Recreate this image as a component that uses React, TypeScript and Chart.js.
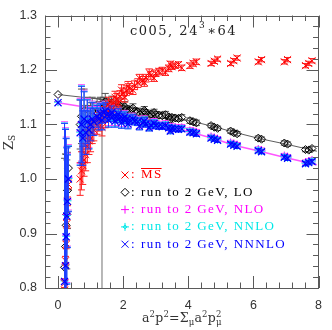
import React, { useEffect, useRef } from "react";
import { Chart, registerables } from "chart.js";

Chart.register(...registerables);

// ---- data ----
const momenta = [0.20, 0.23, 0.25, 0.27, 0.29, 0.32, 0.68, 0.72, 0.76, 0.80, 0.85, 0.90, 0.95, 1.00, 1.05, 1.10, 1.20, 1.25, 1.30, 1.40, 1.50, 1.60, 1.70, 1.80, 1.90, 2.00, 2.10, 2.20, 2.35, 2.45, 2.60, 2.70, 2.85, 3.00, 3.10, 3.20, 3.40, 3.50, 3.60, 3.70, 4.05, 4.15, 4.25, 4.70, 4.80, 4.90, 5.30, 5.40, 5.50, 6.15, 6.25, 6.95, 7.05, 7.60, 7.70, 7.80,
  1.35, 1.45, 1.55, 1.65, 1.75, 1.85, 1.95, 2.05, 2.15, 2.30, 2.50, 2.65, 2.80, 2.95, 3.30, 3.45, 3.80];
const msbar = [0.809, 0.850, 0.880, 0.918, 0.959, 0.990, 1.000, 1.015, 1.025, 1.035, 1.045, 1.060, 1.070, 1.075, 1.085, 1.090, 1.100, 1.105, 1.110, 1.120, 1.127, 1.133, 1.140, 1.146, 1.152, 1.157, 1.162, 1.166, 1.172, 1.176, 1.181, 1.185, 1.190, 1.194, 1.197, 1.199, 1.203, 1.206, 1.208, 1.210, 1.208, 1.212, 1.215, 1.212, 1.216, 1.220, 1.212, 1.217, 1.222, 1.215, 1.219, 1.215, 1.219, 1.208, 1.212, 1.217,
  1.095, 1.108, 1.137, 1.128, 1.150, 1.140, 1.163, 1.150, 1.170, 1.163, 1.185, 1.177, 1.195, 1.185, 1.196, 1.211, 1.204];
const lo = [0.838, 0.876, 0.915, 0.935, 0.979, 1.020, 1.100, 1.115, 1.090, 1.125, 1.100, 1.120, 1.105, 1.115, 1.125, 1.120, 1.130, 1.125, 1.135, 1.138, 1.136, 1.135, 1.133, 1.132, 1.130, 1.129, 1.127, 1.126, 1.124, 1.123, 1.122, 1.121, 1.119, 1.118, 1.117, 1.116, 1.114, 1.113, 1.112, 1.111, 1.107, 1.105, 1.103, 1.098, 1.095, 1.093, 1.088, 1.085, 1.083, 1.075, 1.073, 1.066, 1.064, 1.054, 1.053, 1.056,
  1.128, 1.142, 1.128, 1.140, 1.126, 1.137, 1.124, 1.133, 1.121, 1.130, 1.118, 1.126, 1.115, 1.122, 1.118, 1.109, 1.113];
const nlo = [0.815, 0.844, 0.897, 0.935, 0.962, 1.003, 1.088, 1.103, 1.078, 1.113, 1.088, 1.108, 1.093, 1.103, 1.113, 1.108, 1.118, 1.113, 1.123, 1.125, 1.121, 1.120, 1.118, 1.117, 1.115, 1.114, 1.112, 1.111, 1.109, 1.108, 1.106, 1.104, 1.102, 1.101, 1.100, 1.099, 1.097, 1.096, 1.095, 1.094, 1.089, 1.088, 1.086, 1.078, 1.076, 1.074, 1.067, 1.065, 1.063, 1.055, 1.053, 1.043, 1.041, 1.031, 1.033, 1.035,
  1.111, 1.128, 1.111, 1.125, 1.109, 1.122, 1.106, 1.117, 1.104, 1.113, 1.100, 1.109, 1.097, 1.105, 1.101, 1.091, 1.095];
const nnlo = [0.813, 0.842, 0.895, 0.933, 0.960, 1.001, 1.086, 1.101, 1.076, 1.111, 1.086, 1.106, 1.091, 1.101, 1.111, 1.106, 1.116, 1.111, 1.121, 1.123, 1.119, 1.118, 1.116, 1.115, 1.113, 1.112, 1.110, 1.109, 1.107, 1.106, 1.104, 1.102, 1.100, 1.099, 1.098, 1.097, 1.095, 1.094, 1.093, 1.092, 1.087, 1.086, 1.084, 1.076, 1.074, 1.072, 1.065, 1.063, 1.061, 1.053, 1.051, 1.041, 1.039, 1.029, 1.031, 1.033,
  1.109, 1.126, 1.109, 1.123, 1.107, 1.120, 1.104, 1.115, 1.102, 1.111, 1.098, 1.107, 1.095, 1.103, 1.099, 1.089, 1.093];
const nnnlo = [0.812, 0.841, 0.894, 0.932, 0.959, 1.000, 1.085, 1.100, 1.075, 1.110, 1.085, 1.105, 1.090, 1.100, 1.110, 1.105, 1.115, 1.110, 1.120, 1.122, 1.118, 1.117, 1.115, 1.114, 1.112, 1.111, 1.109, 1.108, 1.106, 1.105, 1.103, 1.101, 1.099, 1.098, 1.097, 1.096, 1.094, 1.093, 1.092, 1.091, 1.086, 1.085, 1.083, 1.075, 1.073, 1.071, 1.064, 1.062, 1.060, 1.052, 1.050, 1.040, 1.038, 1.028, 1.030, 1.032,
  1.108, 1.125, 1.108, 1.122, 1.106, 1.119, 1.103, 1.114, 1.101, 1.110, 1.097, 1.106, 1.094, 1.102, 1.098, 1.088, 1.092];
const convErrs = [0.29, 0.25, 0.18, 0.125, 0.085, 0.06, 0.06, 0.07, 0.05, 0.05, 0.04, 0.04, 0.035, 0.03, 0.03, 0.025, 0.02, 0.02, 0.018, 0.015, 0.012, 0.011, 0.010, 0.010, 0.009, 0.009, 0.008, 0.008, 0.007, 0.007, 0.007, 0.006, 0.006, 0.006, 0.006, 0.005, 0.005, 0.005, 0.005, 0.005, 0.005, 0.005, 0.005, 0.004, 0.004, 0.004, 0.004, 0.004, 0.004, 0.004, 0.004, 0.004, 0.004, 0.004, 0.004, 0.004,
  0.018, 0.015, 0.013, 0.012, 0.011, 0.010, 0.010, 0.009, 0.009, 0.008, 0.007, 0.007, 0.006, 0.006, 0.006, 0.005, 0.005];
const loErrs = [0.20, 0.17, 0.13, 0.10, 0.07, 0.04, 0.045, 0.05, 0.04, 0.04, 0.035, 0.03, 0.03, 0.025, 0.025, 0.02, 0.018, 0.017, 0.015, 0.012, 0.012, 0.011, 0.010, 0.010, 0.009, 0.009, 0.008, 0.008, 0.007, 0.007, 0.007, 0.006, 0.006, 0.006, 0.006, 0.005, 0.005, 0.005, 0.005, 0.005, 0.005, 0.005, 0.005, 0.004, 0.004, 0.004, 0.004, 0.004, 0.004, 0.004, 0.004, 0.004, 0.004, 0.004, 0.004, 0.004,
  0.018, 0.015, 0.013, 0.012, 0.011, 0.010, 0.010, 0.009, 0.009, 0.008, 0.007, 0.007, 0.006, 0.006, 0.006, 0.005, 0.005];
const msErrs = [0.008, 0.008, 0.008, 0.008, 0.008, 0.008, 0.03, 0.035, 0.035, 0.03, 0.03, 0.03, 0.025, 0.025, 0.02, 0.02, 0.018, 0.017, 0.015, 0.013, 0.012, 0.012, 0.011, 0.011, 0.010, 0.010, 0.009, 0.009, 0.008, 0.008, 0.007, 0.007, 0.007, 0.006, 0.006, 0.006, 0.006, 0.005, 0.005, 0.005, 0.005, 0.005, 0.005, 0.004, 0.004, 0.004, 0.004, 0.004, 0.004, 0.004, 0.004, 0.004, 0.004, 0.004, 0.004, 0.004,
  0.016, 0.014, 0.013, 0.012, 0.011, 0.010, 0.010, 0.009, 0.009, 0.008, 0.007, 0.007, 0.007, 0.006, 0.006, 0.005, 0.005];

const zeroMomentum = 0;
const loAtZero = 1.155;
const nloAtZero = 1.142;
const nnloAtZero = 1.141;
const nnnloAtZero = 1.14;

const loLineX = [0, 1.35, 2.0, 2.7, 3.5, 4.25, 4.85, 5.4, 6.2, 7.0, 7.95];
const loLineY = [1.155, 1.146, 1.134, 1.124, 1.114, 1.104, 1.095, 1.086, 1.074, 1.064, 1.051];
const fitLineX = [0, 1.35, 2.0, 2.7, 3.5, 4.25, 4.85, 5.4, 6.2, 7.0, 7.95];
const fitLineY = [1.140, 1.127, 1.114, 1.104, 1.094, 1.083, 1.073, 1.062, 1.051, 1.039, 1.026];

const xTicks = [0, 2, 4, 6, 8];
const yTicks = [0.8, 0.9, 1.0, 1.1, 1.2, 1.3];
const cutValue = 1.35;

const titleMain = "c005, 24";
const titleSup = "3";
const titleTail = "\u221764";
const legendLabels = ["MS", "run to 2 GeV, LO", "run to 2 GeV, NLO", "run to 2 GeV, NNLO", "run to 2 GeV, NNNLO"];
const legendColors = ["#ff0000", "#000000", "#ff00ff", "#00e8e8", "#0000ff"];
const legendMarkers = ["x", "diamond", "plus", "star", "x"];

// ---- helpers ----
const pts = (ys: number[], extraX?: number, extraY?: number) => {
  const d = momenta.map((x, i) => ({ x, y: ys[i] }));
  if (extraX !== undefined && extraY !== undefined) d.unshift({ x: extraX, y: extraY });
  return d;
};
const withZeroErr = (e: number[]) => [0, ...e];

function drawMarker(ctx: CanvasRenderingContext2D, kind: string, cx: number, cy: number, color: string) {
  ctx.save();
  ctx.strokeStyle = color;
  ctx.lineWidth = 1;
  ctx.beginPath();
  const r = 3.5;
  if (kind === "x") {
    ctx.moveTo(cx - r, cy - r); ctx.lineTo(cx + r, cy + r);
    ctx.moveTo(cx - r, cy + r); ctx.lineTo(cx + r, cy - r);
  } else if (kind === "diamond") {
    ctx.moveTo(cx, cy - 4); ctx.lineTo(cx + 4, cy); ctx.lineTo(cx, cy + 4); ctx.lineTo(cx - 4, cy); ctx.closePath();
  } else if (kind === "plus") {
    ctx.moveTo(cx - 4, cy); ctx.lineTo(cx + 4, cy);
    ctx.moveTo(cx, cy - 4); ctx.lineTo(cx, cy + 4);
  } else {
    ctx.moveTo(cx - 4, cy); ctx.lineTo(cx + 4, cy);
    ctx.moveTo(cx, cy - 4); ctx.lineTo(cx, cy + 4);
    ctx.moveTo(cx, cy - 2); ctx.lineTo(cx + 2, cy); ctx.lineTo(cx, cy + 2); ctx.lineTo(cx - 2, cy); ctx.closePath();
  }
  ctx.stroke();
  ctx.restore();
}

const decorPlugin = {
  id: "decor",
  beforeDatasetsDraw(chart: any) {
    const { ctx, chartArea: a, scales } = chart;
    const px = scales.x.getPixelForValue(cutValue);
    ctx.save();
    ctx.strokeStyle = "#b0b0b0";
    ctx.lineWidth = 1.8;
    ctx.beginPath();
    ctx.moveTo(px, a.top);
    ctx.lineTo(px, a.bottom);
    ctx.stroke();
    ctx.restore();
  },
  beforeDatasetDraw(chart: any, args: any) {
    const ds = chart.data.datasets[args.index];
    if (!ds.errorBars) return;
    const { ctx, chartArea: a, scales } = chart;
    ctx.save();
    ctx.beginPath();
    ctx.rect(a.left, a.top, a.right - a.left, a.bottom - a.top);
    ctx.clip();
    ctx.strokeStyle = ds.errorColor;
    ctx.lineWidth = 1;
    const cap = 3.5;
    ds.data.forEach((p: any, i: number) => {
      const e = ds.errorBars[i];
      if (!e) return;
      const px = scales.x.getPixelForValue(p.x);
      const t = scales.y.getPixelForValue(p.y + e);
      const b = scales.y.getPixelForValue(p.y - e);
      ctx.beginPath();
      ctx.moveTo(px, t); ctx.lineTo(px, b);
      ctx.moveTo(px - cap, t); ctx.lineTo(px + cap, t);
      ctx.moveTo(px - cap, b); ctx.lineTo(px + cap, b);
      ctx.stroke();
    });
    ctx.restore();
  },
  afterDraw(chart: any) {
    const { ctx, chartArea: a, scales } = chart;
    const x = scales.x, y = scales.y;
    ctx.save();
    // frame
    ctx.strokeStyle = "#5a5a5a";
    ctx.lineWidth = 1;
    ctx.strokeRect(Math.round(a.left) + 0.5, Math.round(a.top) + 0.5, Math.round(a.right - a.left) - 1, Math.round(a.bottom - a.top) - 1);
    const major = 12, minor = 5.5;
    const xMinor = 0.4, yMinor = 0.02;
    ctx.beginPath();
    for (let k = Math.ceil(x.min / xMinor - 1e-6); k * xMinor <= x.max + 1e-6; k++) {
      const v = k * xMinor;
      const isMajor = xTicks.some((t) => Math.abs(t - v) < 1e-6);
      const len = isMajor ? major : minor;
      const px = Math.round(x.getPixelForValue(v)) + 0.5;
      ctx.moveTo(px, a.bottom); ctx.lineTo(px, a.bottom - len);
      ctx.moveTo(px, a.top); ctx.lineTo(px, a.top + len);
    }
    for (let k = Math.ceil(y.min / yMinor - 1e-6); k * yMinor <= y.max + 1e-6; k++) {
      const v = k * yMinor;
      const isMajor = yTicks.some((t) => Math.abs(t - v) < 1e-6);
      const len = isMajor ? major : minor;
      const py = Math.round(y.getPixelForValue(v)) + 0.5;
      ctx.moveTo(a.left, py); ctx.lineTo(a.left + len, py);
      ctx.moveTo(a.right, py); ctx.lineTo(a.right - len, py);
    }
    ctx.stroke();

    // title
    ctx.fillStyle = "#222";
    (ctx as any).letterSpacing = "1.5px";
    ctx.font = "13px 'DejaVu Serif'";
    ctx.textBaseline = "alphabetic";
    ctx.textAlign = "left";
    let tx = 130;
    ctx.fillText(titleMain, tx, 35);
    tx += ctx.measureText(titleMain).width;
    ctx.font = "9px 'DejaVu Serif'";
    ctx.fillText(titleSup, tx, 28);
    tx += ctx.measureText(titleSup).width + 1;
    ctx.font = "13px 'DejaVu Serif'";
    ctx.fillText(titleTail, tx, 35);

    // legend
    (ctx as any).letterSpacing = "1.4px";
    ctx.font = "13px 'Liberation Serif'";
    const rows = [175, 192.3, 209.6, 226.9, 244.2];
    legendLabels.forEach((lab, i) => {
      const cy = rows[i];
      drawMarker(ctx, legendMarkers[i], 125, cy, legendColors[i]);
      ctx.fillStyle = legendColors[i];
      ctx.textBaseline = "middle";
      ctx.fillText(":", 131, cy);
      ctx.fillText(lab, 141, cy);
      if (i === 0) {
        const w = ctx.measureText(lab).width;
        ctx.strokeStyle = legendColors[i];
        ctx.lineWidth = 1;
        ctx.beginPath();
        ctx.moveTo(141, cy - 6.5);
        ctx.lineTo(141 + w - 1, cy - 6.5);
        ctx.stroke();
      }
    });

    // x axis title: a^2p^2 = Σ_μ a^2 p^2_μ
    (ctx as any).letterSpacing = "0.2px";
    ctx.fillStyle = "#333";
    ctx.textBaseline = "alphabetic";
    const big = "12.5px 'DejaVu Serif'", small = "8.5px 'DejaVu Serif'";
    const parts: [string, string, number][] = [
      ["a", big, 0], ["2", small, -5], ["p", big, 0], ["2", small, -5], ["=", big, 0], ["\u03a3", big, 0], ["\u03bc", small, 3], ["a", big, 0], ["2", small, -5], ["p", big, 0],
    ];
    let totalW = 0;
    parts.forEach(([s, f]) => { ctx.font = f; totalW += ctx.measureText(s).width; });
    ctx.font = small;
    totalW += ctx.measureText("\u03bc").width;
    let ax = (a.left + a.right) / 2 - totalW / 2;
    const ab = 322;
    parts.forEach(([s, f, dy]) => {
      ctx.font = f;
      ctx.fillText(s, ax, ab + dy);
      ax += ctx.measureText(s).width;
    });
    ctx.font = small;
    ctx.fillText("2", ax, ab - 5);
    ctx.fillText("\u03bc", ax, ab + 3);

    // y axis title Z_S
    ctx.save();
    ctx.translate(13, 150);
    ctx.rotate(-Math.PI / 2);
    (ctx as any).letterSpacing = "0px";
    ctx.font = "13px 'DejaVu Serif'";
    ctx.fillText("Z", 0, 0);
    const zw = ctx.measureText("Z").width;
    ctx.font = "9px 'DejaVu Serif'";
    ctx.fillText("S", zw, 2);
    ctx.restore();

    ctx.restore();
  },
};

export default function App() {
  const ref = useRef<HTMLCanvasElement>(null);
  useEffect(() => {
    document.body.style.margin = "0";
    const canvas = ref.current;
    if (!canvas) return;
    const tickFont = { family: "'Liberation Sans', Arial, sans-serif", size: 12.5 };
    const chart = new Chart(canvas, {
      type: "scatter",
      data: {
        datasets: [
          {
            label: "LO line", data: loLineX.map((x, i) => ({ x, y: loLineY[i] })), showLine: true,
            borderColor: "#333", borderWidth: 0.8, pointRadius: 0, order: 9,
          } as any,
          {
            label: "NLO line", data: fitLineX.map((x, i) => ({ x, y: fitLineY[i] })), showLine: true,
            borderColor: "#ff55ff", borderWidth: 1.6, pointRadius: 0, order: 8,
          },
          {
            label: "MS", data: pts(msbar), errorBars: msErrs, errorColor: "#ff2020",
            pointStyle: "crossRot", pointRadius: 5, borderColor: "#ff0000", borderWidth: 1, backgroundColor: "#ff0000", order: 3,
          },
          {
            label: "LO", data: pts(lo, zeroMomentum, loAtZero), errorBars: withZeroErr(loErrs), errorColor: "#555",
            pointStyle: "rectRot", pointRadius: 4, borderColor: "#000", borderWidth: 1, backgroundColor: "rgba(0,0,0,0)", order: 6,
          },
          {
            label: "NLO", data: pts(nlo, zeroMomentum, nloAtZero), errorBars: withZeroErr(convErrs), errorColor: "#ff40ff",
            pointStyle: "cross", pointRadius: 4, borderColor: "#ff00ff", borderWidth: 1, order: 5,
          },
          {
            label: "NNLO", data: pts(nnlo, zeroMomentum, nnloAtZero), errorBars: withZeroErr(convErrs), errorColor: "#30e0f0",
            pointStyle: "cross", pointRadius: 4, borderColor: "#00e0f0", borderWidth: 1, order: 4,
          },
          {
            label: "NNNLO", data: pts(nnnlo, zeroMomentum, nnnloAtZero), errorBars: withZeroErr(convErrs), errorColor: "#1e3cff",
            pointStyle: "crossRot", pointRadius: 5, borderColor: "#0000ff", borderWidth: 1.2, order: 2,
          },
        ] as any,
      },
      options: {
        responsive: false,
        animation: false,
        layout: { padding: { left: 0, right: 3, top: 5, bottom: 0 } },
        plugins: { legend: { display: false }, tooltip: { enabled: false } },
        scales: {
          x: {
            type: "linear", min: -0.4, max: 8,
            grid: { display: false, drawTicks: false },
            border: { display: false },
            afterBuildTicks: (s: any) => { s.ticks = xTicks.map((v) => ({ value: v })); },
            afterFit: (s: any) => { s.height = 42; },
            ticks: { font: tickFont, color: "#333", padding: 10, maxRotation: 0, autoSkip: false, callback: (v: any) => String(v) },
          },
          y: {
            type: "linear", min: 0.8, max: 1.3,
            grid: { display: false, drawTicks: false },
            border: { display: false },
            afterBuildTicks: (s: any) => { s.ticks = yTicks.map((v) => ({ value: v })); },
            afterFit: (s: any) => { s.width = 45; },
            ticks: { font: tickFont, color: "#333", padding: 8, autoSkip: false, callback: (v: any) => Number(v).toFixed(1) },
          },
        },
      } as any,
      plugins: [decorPlugin as any],
    });
    return () => chart.destroy();
  }, []);
  return <canvas ref={ref} width={332} height={330} style={{ display: "block" }} />;
}
